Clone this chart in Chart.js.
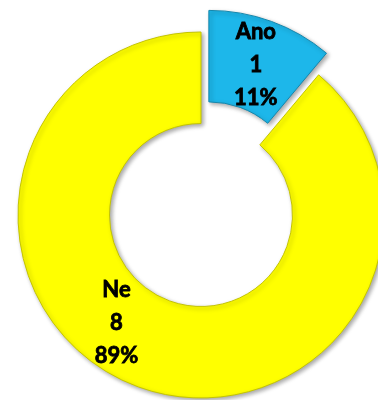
<!DOCTYPE html>
<html>
<head>
<meta charset="utf-8">
<script src="https://cdn.jsdelivr.net/npm/chart.js@4/dist/chart.umd.min.js"></script>
<style>
  html, body { margin: 0; padding: 0; background: #fff; }
  #wrap { width: 378px; height: 400px; position: relative; }
</style>
</head>
<body>
<div id="wrap"><canvas id="pie"></canvas></div>
<script>
// answers and counts
const answers = ['Ano', 'Ne'];
const counts = [1, 8];
const sliceColors = ['#1DB7EA', '#FFFF00'];
const edgeColors = ['#1387ad', '#c4c400'];

const total = counts.reduce((a, b) => a + b, 0);

// draws the slices itself so the first one can be pulled out, then writes the labels
const sliceLabels = {
    id: 'sliceLabels',
    beforeDatasetDraw(chart, args, opts) {
        const ctx = chart.ctx;
        args.meta.data.forEach((arc, i) => {
            const push = opts.explode[i] || 0;
            const mid = (arc.startAngle + arc.endAngle) / 2;
            ctx.save();
            ctx.translate(Math.cos(mid) * push, Math.sin(mid) * push);
            ctx.shadowColor = 'rgba(0,0,0,0.35)';
            ctx.shadowBlur = 4;
            ctx.shadowOffsetX = 2;
            ctx.shadowOffsetY = 2;
            arc.draw(ctx);
            ctx.restore();
        });
        return false;
    },
    afterDatasetsDraw(chart, args, opts) {
        const ctx = chart.ctx;
        const meta = chart.getDatasetMeta(0);
        meta.data.forEach((arc, i) => {
            const push = opts.explode[i] || 0;
            const mid = (arc.startAngle + arc.endAngle) / 2;
            const turn = mid + (opts.turn[i] || 0) * Math.PI / 180;
            const r = (arc.innerRadius + arc.outerRadius) / 2;
            const x = arc.x + Math.cos(mid) * push + Math.cos(turn) * r;
            const y = arc.y + Math.sin(mid) * push + Math.sin(turn) * r;
            const pct = Math.round(counts[i] / total * 100) + '%';
            const lines = [answers[i], String(counts[i]), pct];
            ctx.save();
            ctx.font = 'bold 22px Lato, "Noto Sans", sans-serif';
            ctx.fillStyle = '#000';
            ctx.strokeStyle = '#000';
            ctx.lineWidth = 0.8;
            ctx.textAlign = 'center';
            ctx.textBaseline = 'middle';
            lines.forEach((t, k) => {
                ctx.fillText(t, x, y + (k - 1) * 33);
                ctx.strokeText(t, x, y + (k - 1) * 33);
            });
            ctx.restore();
        });
    }
};

new Chart(document.getElementById('pie'), {
    type: 'doughnut',
    data: {
        labels: answers,
        datasets: [{
            data: counts,
            backgroundColor: sliceColors,
            borderColor: edgeColors,
            borderWidth: 1
        }]
    },
    options: {
        responsive: true,
        maintainAspectRatio: false,
        animation: false,
        radius: 183,
        cutout: '50%',
        layout: { padding: { left: 24, right: 0, top: 30, bottom: 0 } },
        plugins: {
            legend: { display: false },
            tooltip: { enabled: false },
            sliceLabels: { explode: [23, 0], turn: [0, 18] }
        }
    },
    plugins: [sliceLabels]
});
</script>
</body>
</html>
